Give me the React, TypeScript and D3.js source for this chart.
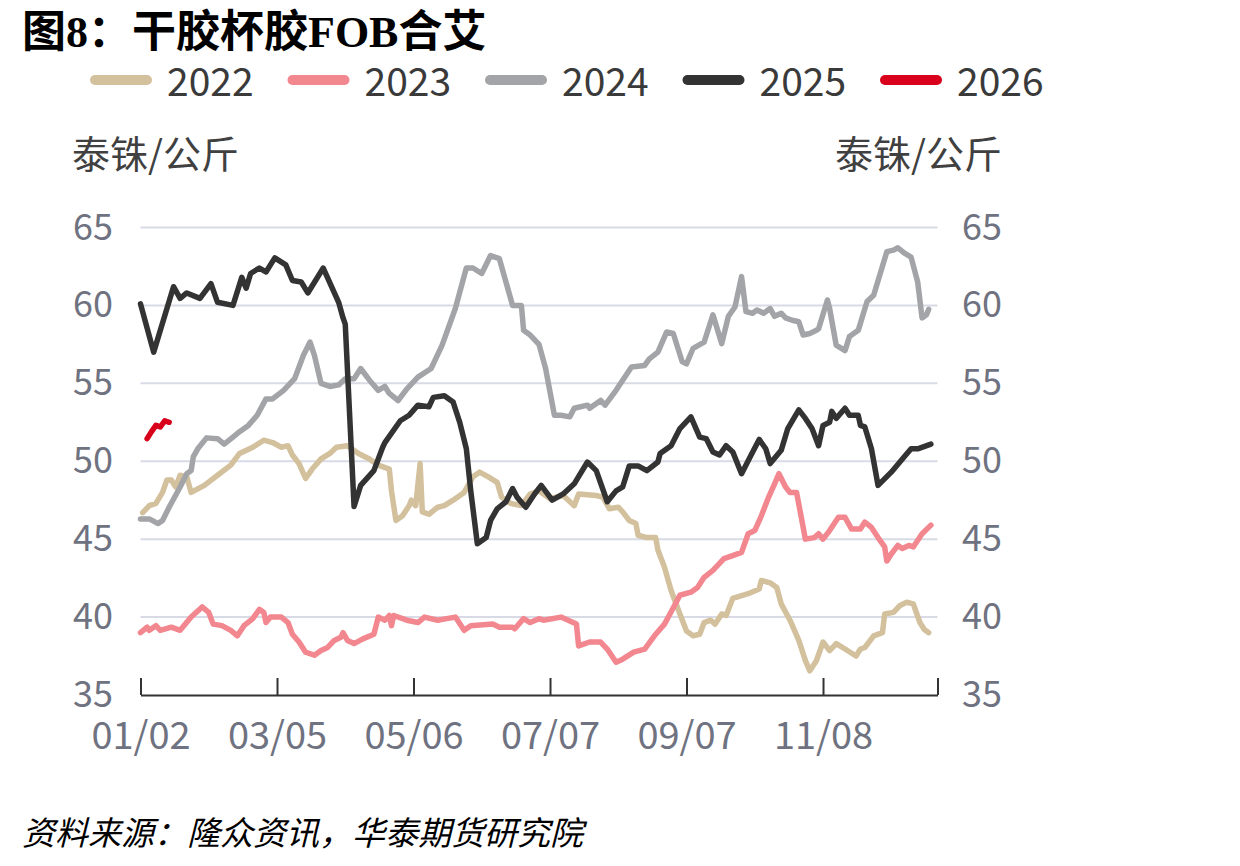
import React, { useRef, useEffect } from 'react';
import * as d3 from 'd3';

// chart data (MM-DD, 泰铢/公斤)
const YEAR = '2025';
const domainDates = ['01-02', '12-30'];
const tickDates = ['01-02', '03-05', '05-06', '07-07', '09-07', '11-08'];
const yTicks = [35, 40, 45, 50, 55, 60, 65];
const seriesNames = ['2022', '2023', '2024', '2025', '2026'];
const seriesColors = ['#d3c09c', '#f2878f', '#a2a4a7', '#333333', '#d9001b'];

const s2022: [string, number][] = [
  ['01-03', 46.7], ['01-06', 47.15], ['01-09', 47.3], ['01-12', 48.0], ['01-14', 48.8], ['01-16', 48.8],
  ['01-18', 48.35], ['01-20', 49.1], ['01-23', 49.0], ['01-25', 48.0], ['01-31', 48.45], ['02-06', 49.1],
  ['02-12', 49.75], ['02-16', 50.5], ['02-22', 50.9], ['02-27', 51.35], ['03-03', 51.2], ['03-07', 50.9],
  ['03-10', 51.0], ['03-12', 50.4], ['03-15', 49.85], ['03-18', 48.9], ['03-21', 49.5], ['03-25', 50.15],
  ['03-29', 50.5], ['04-01', 50.9], ['04-06', 51.0], ['04-11', 50.5], ['04-16', 50.15], ['04-20', 49.75],
  ['04-25', 49.5], ['04-26', 48.1], ['04-28', 46.2], ['05-01', 46.5], ['05-04', 47.15], ['05-05', 47.5],
  ['05-07', 47.15], ['05-09', 49.85], ['05-10', 46.75], ['05-13', 46.6], ['05-17', 47.05], ['05-20', 47.15],
  ['05-24', 47.5], ['05-29', 48.0], ['06-02', 49.0], ['06-05', 49.3], ['06-09', 49.0], ['06-13', 48.65],
  ['06-15', 47.7], ['06-19', 47.3], ['06-24', 47.15], ['06-28', 47.9], ['07-02', 48.1], ['07-07', 47.6],
  ['07-13', 47.8], ['07-18', 47.15], ['07-20', 47.9], ['07-28', 47.8], ['07-31', 47.7], ['08-03', 46.95],
  ['08-07', 47.05], ['08-09', 46.75], ['08-12', 46.2], ['08-15', 46.0], ['08-16', 45.25], ['08-20', 45.1],
  ['08-24', 45.1], ['08-25', 44.3], ['08-28', 43.2], ['08-31', 41.7], ['09-04', 40.2], ['09-07', 39.1],
  ['09-10', 38.8], ['09-13', 38.9], ['09-15', 39.65], ['09-18', 39.8], ['09-20', 39.55], ['09-23', 40.2],
  ['09-25', 40.1], ['09-28', 41.2], ['10-05', 41.5], ['10-10', 41.8], ['10-11', 42.35], ['10-15', 42.2],
  ['10-18', 41.9], ['10-20', 40.85], ['10-24', 39.8], ['10-28', 38.5], ['10-31', 37.2], ['11-02', 36.55],
  ['11-05', 37.2], ['11-08', 38.4], ['11-11', 37.85], ['11-14', 38.3], ['11-18', 37.95], ['11-23', 37.5],
  ['11-25', 37.95], ['11-27', 38.05], ['12-01', 38.8], ['12-05', 39.0], ['12-06', 40.2], ['12-10', 40.3],
  ['12-13', 40.75], ['12-16', 40.95], ['12-19', 40.85], ['12-22', 39.65], ['12-24', 39.2], ['12-26', 39.0],
];

const s2023: [string, number][] = [
  ['01-02', 39.0], ['01-05', 39.35], ['01-06', 39.15], ['01-09', 39.45], ['01-11', 39.15], ['01-16', 39.35],
  ['01-20', 39.15], ['01-25', 40.0], ['01-30', 40.65], ['02-02', 40.3], ['02-04', 39.55], ['02-08', 39.45],
  ['02-12', 39.15], ['02-15', 38.8], ['02-18', 39.45], ['02-22', 39.9], ['02-25', 40.5], ['02-27', 40.3],
  ['02-28', 39.65], ['03-02', 40.0], ['03-07', 40.0], ['03-10', 39.65], ['03-12', 38.9], ['03-15', 38.4],
  ['03-18', 37.75], ['03-22', 37.55], ['03-25', 37.85], ['03-28', 38.05], ['03-31', 38.5], ['04-03', 38.7],
  ['04-04', 39.0], ['04-06', 38.5], ['04-09', 38.3], ['04-13', 38.6], ['04-18', 38.9], ['04-20', 40.0],
  ['04-23', 39.8], ['04-25', 40.1], ['04-26', 39.45], ['04-27', 40.1], ['05-03', 39.8], ['05-08', 39.65],
  ['05-11', 40.0], ['05-17', 39.8], ['05-21', 39.9], ['05-25', 40.0], ['05-26', 39.8], ['05-29', 39.15],
  ['06-01', 39.45], ['06-11', 39.55], ['06-14', 39.35], ['06-20', 39.35], ['06-21', 39.25], ['06-25', 39.9],
  ['06-28', 39.65], ['07-02', 39.9], ['07-04', 39.8], ['07-12', 40.0], ['07-19', 39.55], ['07-20', 38.15],
  ['07-25', 38.4], ['07-30', 38.4], ['08-02', 37.95], ['08-06', 37.1], ['08-09', 37.3], ['08-14', 37.75],
  ['08-19', 37.95], ['08-24', 38.9], ['08-28', 39.55], ['09-01', 40.6], ['09-04', 41.4], ['09-09', 41.6],
  ['09-12', 41.9], ['09-15', 42.55], ['09-19', 43.0], ['09-24', 43.75], ['09-27', 43.9], ['10-02', 44.15],
  ['10-05', 45.35], ['10-08', 45.55], ['10-11', 46.5], ['10-14', 47.6], ['10-17', 48.55], ['10-19', 49.2],
  ['10-22', 48.35], ['10-24', 48.0], ['10-27', 48.0], ['10-29', 46.5], ['10-31', 45.0], ['11-04', 45.1],
  ['11-06', 45.35], ['11-08', 45.0], ['11-11', 45.55], ['11-15', 46.4], ['11-18', 46.4], ['11-21', 45.65],
  ['11-25', 45.65], ['11-27', 46.1], ['11-30', 45.75], ['12-03', 45.1], ['12-06', 44.5], ['12-07', 43.6],
  ['12-09', 44.05], ['12-12', 44.6], ['12-14', 44.4], ['12-17', 44.6], ['12-19', 44.5], ['12-23', 45.35],
  ['12-27', 45.9],
];

const s2024: [string, number][] = [
  ['01-02', 46.3], ['01-06', 46.3], ['01-10', 46.0], ['01-12', 46.2], ['01-15', 47.05], ['01-20', 48.35],
  ['01-23', 49.2], ['01-25', 49.4], ['01-26', 50.3], ['01-28', 50.8], ['02-01', 51.5], ['02-06', 51.45],
  ['02-09', 51.1], ['02-13', 51.55], ['02-16', 51.9], ['02-20', 52.3], ['02-24', 52.95], ['02-28', 54.0],
  ['03-03', 54.0], ['03-08', 54.55], ['03-13', 55.3], ['03-17', 56.8], ['03-20', 57.65], ['03-22', 56.8],
  ['03-25', 55.0], ['03-29', 54.8], ['04-02', 54.9], ['04-05', 55.3], ['04-09', 55.3], ['04-12', 55.95],
  ['04-16', 55.2], ['04-20', 54.55], ['04-23', 54.8], ['04-25', 54.35], ['04-29', 53.9], ['05-03', 54.65],
  ['05-08', 55.4], ['05-14', 55.95], ['05-19', 57.45], ['05-25', 59.8], ['05-30', 62.4], ['06-02', 62.4],
  ['06-06', 62.05], ['06-10', 63.2], ['06-14', 63.0], ['06-20', 60.0], ['06-24', 60.0], ['06-25', 58.4],
  ['06-28', 58.1], ['07-02', 57.5], ['07-05', 55.95], ['07-09', 52.95], ['07-12', 52.95], ['07-16', 52.85],
  ['07-18', 53.4], ['07-24', 53.6], ['07-25', 53.4], ['07-30', 53.9], ['08-01', 53.6], ['08-06', 54.55],
  ['08-13', 56.05], ['08-19', 56.15], ['08-21', 56.55], ['08-25', 57.0], ['08-29', 58.3], ['09-01', 58.2],
  ['09-05', 56.4], ['09-07', 56.25], ['09-10', 57.25], ['09-15', 57.65], ['09-19', 59.4], ['09-23', 57.55],
  ['09-26', 59.3], ['09-29', 59.9], ['10-02', 61.85], ['10-04', 59.6], ['10-07', 59.5], ['10-09', 59.7],
  ['10-12', 59.5], ['10-15', 59.8], ['10-17', 59.3], ['10-20', 59.5], ['10-22', 59.2], ['10-25', 59.05],
  ['10-28', 58.95], ['10-30', 58.1], ['11-02', 58.2], ['11-05', 58.4], ['11-06', 58.5], ['11-10', 60.35],
  ['11-11', 59.8], ['11-14', 57.45], ['11-18', 57.1], ['11-20', 58.0], ['11-24', 58.4], ['11-28', 60.25],
  ['12-01', 60.65], ['12-07', 63.45], ['12-10', 63.55], ['12-12', 63.7], ['12-15', 63.35], ['12-18', 63.1],
  ['12-21', 61.5], ['12-23', 59.2], ['12-25', 59.4], ['12-26', 59.75],
];

const s2025: [string, number][] = [
  ['01-02', 60.1], ['01-08', 57.0], ['01-17', 61.2], ['01-20', 60.45], ['01-23', 60.8], ['01-29', 60.45],
  ['02-03', 61.4], ['02-06', 60.2], ['02-13', 60.0], ['02-17', 61.8], ['02-19', 61.1], ['02-21', 62.05],
  ['02-25', 62.4], ['02-28', 62.15], ['03-04', 63.05], ['03-09', 62.6], ['03-12', 61.6], ['03-16', 61.5],
  ['03-19', 60.8], ['03-26', 62.4], ['04-02', 60.2], ['04-04', 59.2], ['04-05', 58.8], ['04-09', 47.1],
  ['04-12', 48.45], ['04-18', 49.4], ['04-22', 50.9], ['04-23', 51.2], ['04-30', 52.6], ['05-04', 52.95],
  ['05-08', 53.6], ['05-13', 53.5], ['05-15', 54.1], ['05-20', 54.2], ['05-24', 53.8], ['05-27', 52.5],
  ['05-30', 50.8], ['06-01', 48.1], ['06-04', 44.7], ['06-08', 45.1], ['06-10', 46.2], ['06-13', 46.95],
  ['06-17', 47.4], ['06-20', 48.25], ['06-22', 47.7], ['06-26', 47.05], ['06-30', 47.9], ['07-03', 48.45],
  ['07-08', 47.5], ['07-13', 47.9], ['07-18', 48.55], ['07-24', 49.95], ['07-28', 49.4], ['08-02', 47.4],
  ['08-06', 48.1], ['08-09', 48.35], ['08-12', 49.7], ['08-16', 49.7], ['08-20', 49.4], ['08-25', 49.95],
  ['08-26', 50.5], ['08-31', 51.0], ['09-04', 52.1], ['09-09', 52.85], ['09-13', 51.55], ['09-16', 51.45],
  ['09-19', 50.6], ['09-22', 50.4], ['09-25', 51.0], ['09-28', 50.6], ['10-02', 49.2], ['10-06', 50.3],
  ['10-10', 51.4], ['10-13', 50.8], ['10-15', 49.85], ['10-20', 50.7], ['10-23', 52.1], ['10-28', 53.3],
  ['10-31', 52.75], ['11-03', 52.1], ['11-06', 51.0], ['11-08', 52.3], ['11-11', 52.5], ['11-12', 53.2],
  ['11-14', 52.75], ['11-18', 53.4], ['11-20', 52.95], ['11-24', 52.95], ['11-25', 52.3], ['11-27', 52.2],
  ['11-30', 50.8], ['12-03', 48.45], ['12-09', 49.3], ['12-15', 50.3], ['12-18', 50.8], ['12-21', 50.8],
  ['12-27', 51.1],
];

const s2026: [string, number][] = [
  ['01-05', 51.45], ['01-07', 51.9], ['01-09', 52.3], ['01-11', 52.2], ['01-13', 52.6], ['01-15', 52.5],
];

const allSeries = [s2022, s2023, s2024, s2025, s2026];

const FONT = "'Noto Sans CJK SC', 'Noto Sans', sans-serif";

function App() {
  const svgRef = useRef(null);

  useEffect(() => {
    const svg = d3.select(svgRef.current);
    svg.selectAll('*').remove();

    const width = 1240;
    const height = 866;
    const margin = { top: 227.5, right: 302.5, bottom: 171, left: 140.5 };

    const parse = d3.timeParse('%Y-%m-%d');
    const toDate = (md: string) => parse(`${YEAR}-${md}`) as Date;

    const x = d3.scaleTime()
      .domain(domainDates.map(toDate))
      .range([margin.left, width - margin.right]);

    const y = d3.scaleLinear()
      .domain([35, 65])
      .range([height - margin.bottom, margin.top]);

    svg.attr('width', width).attr('height', height);

    // title
    svg.append('text')
      .attr('x', 22)
      .attr('y', 47)
      .style('font-family', "'Liberation Serif', 'Noto Sans CJK SC', serif")
      .style('font-size', '44px')
      .style('font-weight', 'bold')
      .attr('fill', '#000')
      .text('图8：干胶杯胶FOB合艾');

    // legend
    const legend = svg.append('g');
    seriesNames.forEach((name, i) => {
      const lx = 90 + i * 197.5;
      legend.append('rect')
        .attr('x', lx)
        .attr('y', 75)
        .attr('width', 62)
        .attr('height', 10)
        .attr('rx', 5)
        .attr('fill', seriesColors[i]);
      legend.append('text')
        .attr('x', lx + 77)
        .attr('y', 79)
        .attr('dominant-baseline', 'central')
        .style('font-family', FONT)
        .style('font-size', '39px')
        .attr('fill', '#3a3a3a')
        .text(name);
    });

    // unit labels
    [['start', 72], ['end', 1002]].forEach(([anchor, ux]) => {
      svg.append('text')
        .attr('x', ux)
        .attr('y', 168)
        .attr('text-anchor', anchor)
        .style('font-family', FONT)
        .style('font-size', '38px')
        .attr('fill', '#404040')
        .text('泰铢/公斤');
    });

    // gridlines
    svg.append('g')
      .selectAll('line')
      .data(yTicks.filter(t => t > 35))
      .enter()
      .append('line')
      .attr('x1', margin.left)
      .attr('x2', width - margin.right)
      .attr('y1', d => y(d))
      .attr('y2', d => y(d))
      .attr('stroke', '#d8dbe6')
      .attr('stroke-width', 2);

    // y labels, both sides
    const yl = svg.append('g')
      .style('font-family', FONT)
      .style('font-size', '36px')
      .attr('fill', '#6f7280');
    yl.selectAll('.yl')
      .data(yTicks)
      .enter()
      .append('text')
      .attr('class', 'yl')
      .attr('x', 113)
      .attr('y', d => y(d) - 4)
      .attr('text-anchor', 'end')
      .attr('dominant-baseline', 'central')
      .text(d => d);
    yl.selectAll('.yr')
      .data(yTicks)
      .enter()
      .append('text')
      .attr('class', 'yr')
      .attr('x', 962)
      .attr('y', d => y(d) - 4)
      .attr('dominant-baseline', 'central')
      .text(d => d);

    // x axis
    const tickValues = [...tickDates, domainDates[1]].map(toDate);
    const fmt = d3.timeFormat('%m/%d');
    const xAxis = svg.append('g')
      .attr('transform', `translate(0,${y(35)})`)
      .call(d3.axisBottom(x)
        .tickValues(tickValues)
        .tickSizeInner(-17)
        .tickSizeOuter(0)
        .tickPadding(27)
        .tickFormat((d, i) => (i < tickDates.length ? fmt(d as Date) : '')));
    xAxis.select('.domain').attr('stroke', '#333').attr('stroke-width', 2);
    xAxis.selectAll('.tick line').attr('stroke', '#333').attr('stroke-width', 2);
    xAxis.selectAll('.tick text')
      .style('font-family', FONT)
      .style('font-size', '38px')
      .attr('fill', '#6f7280');

    // series lines
    const line = d3.line<[string, number]>()
      .x(d => x(toDate(d[0])))
      .y(d => y(d[1]))
      .curve(d3.curveLinear);

    allSeries.forEach((s, i) => {
      svg.append('path')
        .datum(s)
        .attr('fill', 'none')
        .attr('stroke', seriesColors[i])
        .attr('stroke-width', 5.5)
        .attr('stroke-linejoin', 'round')
        .attr('stroke-linecap', 'round')
        .attr('d', line);
    });

    // source
    svg.append('text')
      .attr('x', 22)
      .attr('y', 845)
      .style('font-family', FONT)
      .style('font-size', '33px')
      .style('font-style', 'italic')
      .attr('fill', '#000')
      .text('资料来源：隆众资讯，华泰期货研究院');
  }, []);

  return (
    <div style={{ position: 'absolute', left: 0, top: 0 }}>
      <svg ref={svgRef}></svg>
    </div>
  );
}

export default App;
